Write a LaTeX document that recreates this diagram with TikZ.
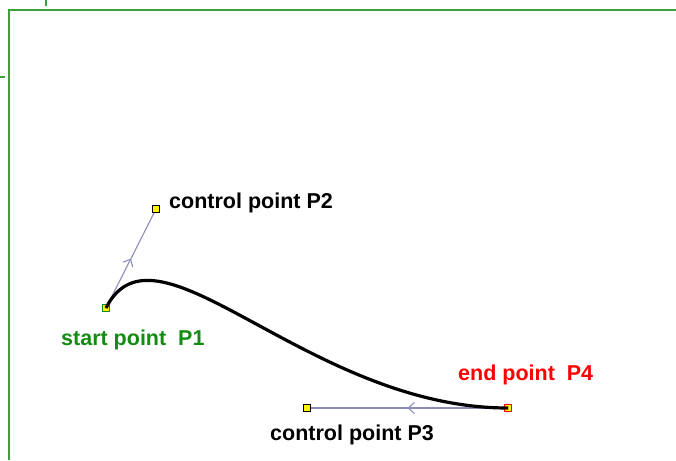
\documentclass[tikz,border=0pt]{standalone}
\usepackage{fontspec}
\setmainfont{Liberation Sans}
\usetikzlibrary{arrows.meta,decorations.markings}
\definecolor{framegreen}{RGB}{60,160,60}
\definecolor{startgreen}{RGB}{20,140,20}
\definecolor{handlecol}{RGB}{140,140,190}
\begin{document}
\begin{tikzpicture}[x=1pt, y=-1pt,
    ptbox/.style={rectangle, draw=black, fill=yellow, minimum size=7pt, inner sep=0pt, line width=0.9pt},
    ptlabel/.style={font=\fontsize{21.5}{25}\selectfont\bfseries, anchor=base west, inner sep=0pt},
    handle/.style={draw=handlecol, line width=1.1pt, postaction={decorate},
        decoration={markings, mark=at position 0.5 with {\arrow{Straight Barb[length=6pt, width=11pt]}}}}
]
    \useasboundingbox (0,0) rectangle (676,460);

    % frame
    \draw[framegreen, line width=2.6pt] (8,10) -- (676,10);
    \draw[framegreen, line width=2.6pt] (9,10) -- (9,460);
    \draw[framegreen, line width=2.6pt] (46,0) -- (46,6);
    \draw[framegreen, line width=2.6pt] (0,77) -- (5,77);

    % points
    \node[ptbox, draw=startgreen] (p1) at (106,308) {};
    \node[ptbox] (p2) at (156,209) {};
    \node[ptbox] (p3) at (307,408) {};
    \node[ptbox, draw=red] (p4) at (508,408) {};

    % handles
    \draw[handle] (p1) -- (p2);
    \draw[handle] (p4) -- (p3);

    % Bezier curve
    \draw[black, line width=3.2pt] (p1.center) .. controls (p2.center) and (p3.center) .. (p4.center);

    % labels
    \node[ptlabel, text=startgreen] (l1) at (61,345) {start point\ \ P1};
    \node[ptlabel] (l2) at (169,208) {control point P2};
    \node[ptlabel] (l3) at (270,440) {control point P3};
    \node[ptlabel, text=red] (l4) at (458,380) {end point\ \ P4};
\end{tikzpicture}
\end{document}
